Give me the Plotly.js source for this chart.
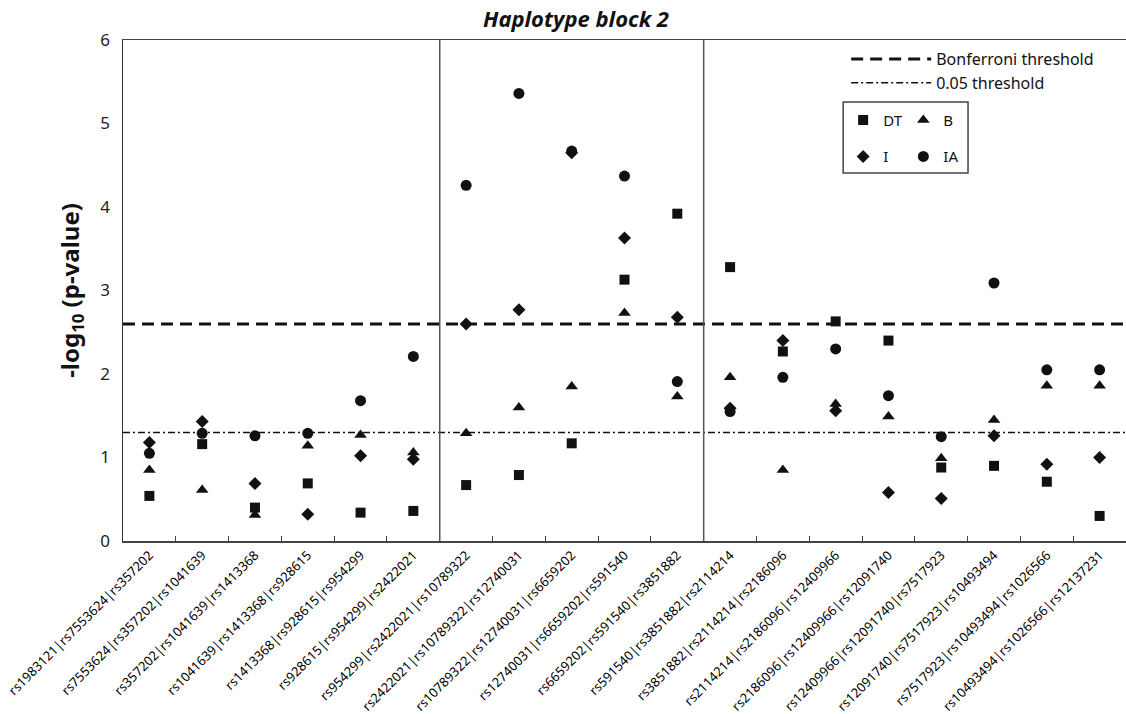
<!DOCTYPE html>
<html>
<head>
<meta charset="utf-8">
<script src="https://cdn.plot.ly/plotly-3.0.1.min.js"></script>
<style>html,body{margin:0;padding:0;background:#fff;}#chart{width:1126px;height:714px;}</style>
</head>
<body>
<div id="chart"></div>
<script>
const haplotypes = [
  "rs1983121|rs7553624|rs357202",
  "rs7553624|rs357202|rs1041639",
  "rs357202|rs1041639|rs1413368",
  "rs1041639|rs1413368|rs928615",
  "rs1413368|rs928615|rs954299",
  "rs928615|rs954299|rs2422021",
  "rs954299|rs2422021|rs10789322",
  "rs2422021|rs10789322|rs12740031",
  "rs10789322|rs12740031|rs6659202",
  "rs12740031|rs6659202|rs591540",
  "rs6659202|rs591540|rs3851882",
  "rs591540|rs3851882|rs2114214",
  "rs3851882|rs2114214|rs2186096",
  "rs2114214|rs2186096|rs12409966",
  "rs2186096|rs12409966|rs12091740",
  "rs12409966|rs12091740|rs7517923",
  "rs12091740|rs7517923|rs10493494",
  "rs7517923|rs10493494|rs1026566",
  "rs10493494|rs1026566|rs12137231"
];
const DT = [0.54,1.16,0.40,0.69,0.34,0.36,0.67,0.79,1.17,3.13,3.92,3.28,2.27,2.63,2.40,0.88,0.90,0.71,0.30];
const B  = [0.85,0.61,0.31,1.14,1.27,1.06,1.29,1.60,1.85,2.73,1.73,1.96,0.85,1.64,1.49,0.99,1.45,1.86,1.86];
const I  = [1.18,1.43,0.69,0.32,1.02,0.98,2.60,2.77,4.65,3.63,2.68,1.59,2.40,1.56,0.58,0.51,1.26,0.92,1.00];
const IA = [1.05,1.29,1.26,1.29,1.68,2.21,4.26,5.36,4.67,4.37,1.91,1.55,1.96,2.30,1.74,1.25,3.09,2.05,2.05];
const bonferroniThreshold = 2.6;
const alphaThreshold = 1.3;
const blockStart = 6, blockEnd = 10;

const mk = '#111111';
const traces = [
  {name:'Bonferroni threshold', x:[0,1], y:[bonferroniThreshold,bonferroniThreshold], xaxis:'x2', mode:'lines',
   line:{color:'#111', width:3, dash:'12px,7px'}, legend:'legend', hoverinfo:'skip'},
  {name:'0.05 threshold', x:[0,1], y:[alphaThreshold,alphaThreshold], xaxis:'x2', mode:'lines',
   line:{color:'#111', width:1.6, dash:'7px,3px,2px,3px'}, legend:'legend', hoverinfo:'skip'},
  {name:'DT', x:haplotypes, y:DT, mode:'markers', marker:{symbol:'square', size:10, color:mk}, legend:'legend2', legendgroup:'a'},
  {name:'I', x:haplotypes, y:I, mode:'markers', marker:{symbol:'diamond', size:10, color:mk}, legend:'legend2', legendgroup:'b'},
  {name:'B', x:haplotypes, y:B, mode:'markers', marker:{symbol:'triangle-up', size:11, color:mk}, legend:'legend3', legendgroup:'c'},
  {name:'IA', x:haplotypes, y:IA, mode:'markers', marker:{symbol:'circle', size:11, color:mk}, legend:'legend3', legendgroup:'d'}
];
// draw order: DT, B, I, IA
const ordered = [traces[0], traces[1], traces[2], traces[4], traces[3], traces[5]];

const fontFam = '"Noto Sans", "Open Sans", sans-serif';
const layout = {
  width:1126, height:714,
  margin:{l:123, r:0, t:40, b:173},
  paper_bgcolor:'#fff', plot_bgcolor:'#fff',
  font:{family:fontFam, color:'#222'},
  title:{text:'<b><i>Haplotype block 2</i></b>', font:{size:22, family:fontFam, color:'#111'},
         xref:'container', x:576/1126, xanchor:'center', yref:'container', y:1-19/714, yanchor:'middle'},
  xaxis:{type:'category', range:[-0.5, haplotypes.length-0.5], tickangle:-45, tickfont:{size:13, color:'#000'},
         showline:true, linecolor:'#444', linewidth:1.5, mirror:true, ticks:'inside', tickson:'boundaries',
         ticklen:5, tickcolor:'#444', showgrid:false, zeroline:false, fixedrange:true},
  xaxis2:{overlaying:'x', range:[0,1], visible:false, fixedrange:true},
  yaxis:{range:[0,6], dtick:1, showline:true, linecolor:'#333', linewidth:1.5, ticks:'', showgrid:false,
         zeroline:false, tickfont:{size:17, color:'#222'}, ticklabelstandoff:8,
         title:{text:'<b>-log<sub>10</sub> (p-value)</b>', font:{size:24, color:'#111'}, standoff:14}},
  showlegend:true,
  legend:{x:0.721, y:0.996, xanchor:'left', yanchor:'top', bgcolor:'rgba(0,0,0,0)', font:{size:16, color:'#111'},
          itemwidth:80, tracegroupgap:0},
  legend2:{x:0.718, y:0.873, xanchor:'left', yanchor:'top', bgcolor:'rgba(0,0,0,0)', font:{size:15, color:'#111'},
           tracegroupgap:14},
  legend3:{x:0.778, y:0.873, xanchor:'left', yanchor:'top', bgcolor:'rgba(0,0,0,0)', font:{size:15, color:'#111'},
           tracegroupgap:14},
  shapes:[
    {type:'line', xref:'x', yref:'paper', x0:blockStart-0.5, x1:blockStart-0.5, y0:0, y1:1, line:{color:'#555', width:1.5}},
    {type:'line', xref:'x', yref:'paper', x0:blockEnd+0.5, x1:blockEnd+0.5, y0:0, y1:1, line:{color:'#555', width:1.5}},
    {type:'rect', xref:'paper', yref:'paper', x0:0.718, x1:0.8425, y0:0.7345, y1:0.876, line:{color:'#444', width:1.5}}
  ]
};
Plotly.newPlot('chart', ordered, layout, {displayModeBar:false, staticPlot:true});
</script>
</body>
</html>
